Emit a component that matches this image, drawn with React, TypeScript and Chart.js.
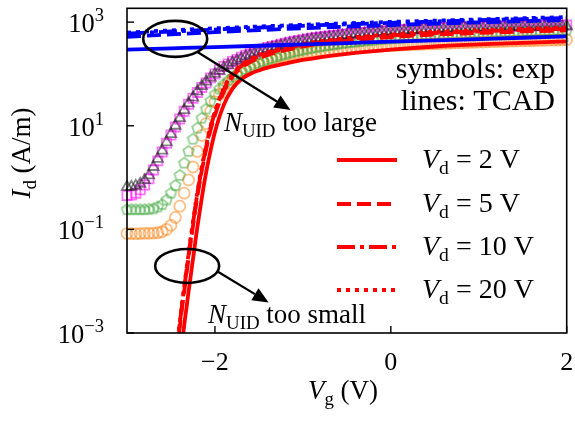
import React, { useEffect, useRef } from "react";
import { Chart, registerables } from "chart.js";

Chart.register(...registerables);

// ---------- data ----------
const VG_EXP = [
  -3.0, -2.95, -2.9, -2.85, -2.8, -2.75, -2.7, -2.65, -2.6, -2.55,
  -2.5, -2.45, -2.4, -2.35, -2.3, -2.25, -2.2, -2.15, -2.1, -2.05,
  -2.0, -1.95, -1.9, -1.85, -1.8, -1.75, -1.7, -1.65, -1.6, -1.55,
  -1.5, -1.45, -1.4, -1.35, -1.3, -1.25, -1.2, -1.15, -1.1, -1.05,
  -1.0, -0.95, -0.9, -0.85, -0.8, -0.75, -0.7, -0.65, -0.6, -0.55,
  -0.5, -0.45, -0.4, -0.35, -0.3, -0.25, -0.2, -0.15, -0.1, -0.05,
  0.0, 0.05, 0.1, 0.15, 0.2, 0.25, 0.3, 0.35, 0.4, 0.45,
  0.5, 0.55, 0.6, 0.65, 0.7, 0.75, 0.8, 0.85, 0.9, 0.95,
  1.0, 1.05, 1.1, 1.15, 1.2, 1.25, 1.3, 1.35, 1.4, 1.45,
  1.5, 1.55, 1.6, 1.65, 1.7, 1.75, 1.8, 1.85, 1.9, 1.95,
  2.0,
];

// experimental Id (A/m)
const EXP_VD2 = [
  0.083, 0.083, 0.082, 0.083, 0.084, 0.084, 0.085, 0.086, 0.09, 0.1,
  0.12, 0.17, 0.28, 0.5, 0.9, 1.6, 3.2, 6.5, 11, 19,
  29, 40, 53, 66, 79, 92, 104, 116, 128, 140,
  152, 164, 176, 187, 198, 209, 219, 229, 238, 246,
  253, 260, 266, 272, 278, 284, 290, 295, 300, 305,
  310, 315, 320, 325, 330, 334, 338, 342, 346, 350,
  354, 357, 360, 363, 366, 369, 372, 375, 378, 381,
  384, 387, 390, 393, 396, 399, 402, 404, 407, 409,
  412, 414, 417, 419, 422, 424, 427, 429, 431, 434,
  436, 438, 440, 442, 444, 446, 448, 450, 452, 454,
  456,
];
const EXP_VD5 = [
  0.24, 0.24, 0.24, 0.24, 0.24, 0.245, 0.25, 0.27, 0.3, 0.37,
  0.5, 0.7, 1.1, 1.9, 3.2, 5.5, 9, 14, 21, 30,
  40, 51, 62, 74, 86, 98, 110, 122, 135, 148,
  161, 174, 187, 200, 213, 226, 239, 252, 264, 276,
  288, 300, 312, 323, 334, 345, 356, 366, 376, 386,
  396, 405, 414, 423, 432, 441, 449, 457, 465, 473,
  481, 487, 493, 499, 505, 511, 517, 523, 529, 535,
  541, 547, 553, 558, 564, 570, 575, 581, 586, 592,
  597, 602, 608, 613, 618, 623, 628, 633, 638, 643,
  648, 653, 658, 663, 668, 673, 678, 683, 688, 693,
  698,
];
const EXP_VD10 = [
  0.45, 0.46, 0.5, 0.58, 0.72, 0.95, 1.4, 2.1, 3.1, 4.6,
  6.6, 9.5, 13.5, 19, 26, 34, 44, 55, 67, 84,
  100, 121, 139, 156, 174, 191, 210, 229, 246, 264,
  283, 303, 324, 340, 356, 373, 391, 409, 427, 438,
  459, 475, 491, 503, 515, 526, 539, 551, 564, 578,
  590, 604, 618, 626, 633, 648, 655, 663, 678, 686,
  694, 701, 710, 718, 727, 735, 743, 752, 760, 766,
  772, 778, 783, 788, 791, 794, 797, 800, 804, 807,
  811, 814, 818, 821, 825, 828, 832, 835, 838, 842,
  845, 848, 852, 855, 858, 861, 864, 867, 870, 873,
  876,
];
const EXP_VD20 = [
  0.66, 0.66, 0.69, 0.76, 0.89, 1.1, 1.6, 2.3, 3.3, 4.8,
  6.9, 10, 14, 20, 27, 35, 46, 58, 71, 85,
  100, 115, 132, 148, 166, 182, 200, 219, 234, 251,
  269, 288, 309, 324, 339, 355, 372, 389, 407, 417,
  437, 452, 468, 479, 490, 501, 513, 525, 537, 550,
  562, 575, 589, 596, 603, 617, 624, 631, 646, 653,
  661, 668, 676, 684, 692, 700, 708, 716, 724, 729,
  735, 741, 746, 750, 753, 756, 759, 762, 766, 769,
  772, 775, 779, 782, 786, 789, 792, 795, 798, 802,
  805, 808, 811, 814, 817, 820, 823, 826, 829, 831,
  834,
];

// TCAD, N_UID too small (red)
const VG_SIM_LOW = [
  -2.44, -2.42, -2.4, -2.38, -2.36, -2.34, -2.32, -2.3, -2.28, -2.26,
  -2.24, -2.22, -2.2, -2.15, -2.1, -2.05, -2.0, -1.9, -1.8, -1.7,
  -1.6, -1.5, -1.4, -1.2, -1.0, -0.5, 0.0, 0.5, 1.0, 1.5, 2.0,
];
const SIM_LOW_VD2 = [
  1e-4, 1.8e-4, 3.2e-4, 5.6e-4, 1.0e-3, 1.9e-3, 3.4e-3, 6.3e-3, 0.011, 0.02,
  0.035, 0.063, 0.11, 0.4, 1.26, 3.3, 7.6, 25, 52, 79,
  100, 117, 132, 158, 186, 245, 295, 339, 372, 398, 427,
];
const SIM_LOW_VD5 = [
  4e-4, 7e-4, 1.3e-3, 2.5e-3, 4.7e-3, 8.5e-3, 0.0155, 0.028, 0.05, 0.087,
  0.15, 0.26, 0.43, 1.35, 3.5, 8.3, 16, 45, 89, 132,
  170, 204, 234, 288, 339, 437, 513, 575, 617, 661, 692,
];
const SIM_LOW_VD10 = [
  4.5e-4, 8e-4, 1.5e-3, 2.9e-3, 5.4e-3, 9.8e-3, 0.018, 0.032, 0.057, 0.1,
  0.17, 0.3, 0.49, 1.5, 3.9, 9.2, 18, 50, 97, 143,
  184, 220, 252, 310, 364, 469, 550, 617, 661, 708, 741,
];
const SIM_LOW_VD20 = [
  5e-4, 8.5e-4, 1.6e-3, 3.1e-3, 5.8e-3, 0.0105, 0.019, 0.034, 0.061, 0.107,
  0.18, 0.32, 0.52, 1.6, 4.1, 9.8, 19, 53, 102, 150,
  193, 231, 265, 326, 383, 494, 580, 650, 697, 746, 780,
];

// TCAD, N_UID too large (blue)
const VG_SIM_HIGH = [-3, -2.5, -2, -1.5, -1, -0.5, 0, 0.5, 1, 1.5, 2];
const SIM_HIGH_VD2 = [295, 312, 330, 350, 372, 395, 420, 445, 470, 500, 530];
const SIM_HIGH_VD5 = [520, 580, 640, 700, 760, 820, 880, 935, 990, 1045, 1100];
const SIM_HIGH_VD10 = [600, 660, 720, 785, 850, 910, 970, 1030, 1090, 1145, 1200];
const SIM_HIGH_VD20 = [630, 695, 760, 825, 890, 950, 1010, 1070, 1130, 1190, 1250];

const LEGEND_VD = ["2", "5", "10", "20"];
const X_TICKS = [-2, 0, 2];
const Y_TICKS = [1e3, 1e1, 1e-1, 1e-3];
const Y_TICK_EXP = ["3", "1", "\u22121", "\u22123"];

// ---------- styles ----------
const FONT = '"Liberation Serif", "DejaVu Serif", serif';
const DASHES: number[][] = [[], [14, 6], [18, 5, 4, 5], [4, 5]];
const RED = "#ff0000";
const BLUE = "#0000ff";

type Seg = { t: string; it?: boolean; sub?: boolean; sup?: boolean };

function fontFor(s: Seg, size: number) {
  const sz = s.sub || s.sup ? size * 0.7 : size;
  return `${s.it ? "italic " : ""}${sz}px ${FONT}`;
}

function drawRich(
  ctx: CanvasRenderingContext2D,
  segs: Seg[],
  x: number,
  y: number,
  size: number,
  align: "left" | "right" | "center"
) {
  ctx.textBaseline = "alphabetic";
  ctx.textAlign = "left";
  let w = 0;
  for (const s of segs) {
    ctx.font = fontFor(s, size);
    w += ctx.measureText(s.t).width;
  }
  let cx = align === "left" ? x : align === "right" ? x - w : x - w / 2;
  for (const s of segs) {
    ctx.font = fontFor(s, size);
    const dy = s.sub ? size * 0.22 : s.sup ? -size * 0.42 : 0;
    ctx.fillText(s.t, cx, y + dy);
    cx += ctx.measureText(s.t).width;
  }
}

function makePentagon(r: number, color: string, lw: number) {
  const size = Math.ceil(2 * r + lw * 2 + 2);
  const c = document.createElement("canvas");
  c.width = size;
  c.height = size;
  const g = c.getContext("2d")!;
  g.strokeStyle = color;
  g.lineWidth = lw;
  g.beginPath();
  for (let i = 0; i < 5; i++) {
    const a = -Math.PI / 2 + (i * 2 * Math.PI) / 5;
    const px = size / 2 + r * Math.cos(a);
    const py = size / 2 + r * Math.sin(a);
    if (i === 0) g.moveTo(px, py);
    else g.lineTo(px, py);
  }
  g.closePath();
  g.stroke();
  return c;
}

const pts = (xs: number[], ys: number[]) => xs.map((x, i) => ({ x, y: ys[i] }));

const overlayPlugin = {
  id: "overlay",
  afterDraw(chart: any) {
    const { ctx, chartArea: ca, scales } = chart;
    const xs = scales.x;
    const ys = scales.y;
    ctx.save();
    ctx.fillStyle = "#000";
    ctx.strokeStyle = "#000";

    // frame
    ctx.lineWidth = 1.6;
    ctx.strokeRect(ca.left, ca.top, ca.right - ca.left, ca.bottom - ca.top);

    // x ticks
    ctx.lineWidth = 1.4;
    for (const v of X_TICKS) {
      const px = xs.getPixelForValue(v);
      ctx.beginPath();
      ctx.moveTo(px, ca.bottom);
      ctx.lineTo(px, ca.bottom - 7);
      ctx.stroke();
      const lab = v < 0 ? "\u2212" + Math.abs(v) : String(v);
      drawRich(ctx, [{ t: lab }], px, ca.bottom + 37, 26, "center");
    }
    // y ticks
    Y_TICKS.forEach((v, i) => {
      const py = ys.getPixelForValue(v);
      ctx.beginPath();
      ctx.moveTo(ca.left, py);
      ctx.lineTo(ca.left + 7, py);
      ctx.stroke();
      drawRich(ctx, [{ t: "10" }, { t: Y_TICK_EXP[i], sup: true }], ca.left - 23, py + 10, 26.5, "right");
    });

    // axis titles
    drawRich(
      ctx,
      [{ t: "V", it: true }, { t: "g", sub: true }, { t: " (V)" }],
      343,
      399,
      27,
      "center"
    );
    ctx.save();
    ctx.translate(30, 153);
    ctx.rotate(-Math.PI / 2);
    drawRich(ctx, [{ t: "I", it: true }, { t: "d", sub: true }, { t: " (A/m)" }], 0, 0, 27, "center");
    ctx.restore();

    // text box
    drawRich(ctx, [{ t: "symbols: exp" }], 555, 78, 30, "right");
    drawRich(ctx, [{ t: "lines: TCAD" }], 555, 110, 30, "right");

    // legend (red TCAD lines)
    const rows = [160, 204, 247, 290];
    rows.forEach((ry, i) => {
      ctx.save();
      ctx.strokeStyle = RED;
      ctx.lineWidth = 3.8;
      ctx.setLineDash(DASHES[i]);
      ctx.beginPath();
      ctx.moveTo(337, ry);
      ctx.lineTo(397, ry);
      ctx.stroke();
      ctx.restore();
      drawRich(
        ctx,
        [{ t: "V", it: true }, { t: "d", sub: true }, { t: " = " + LEGEND_VD[i] + " V" }],
        422,
        ry + 8,
        28,
        "left"
      );
    });

    // annotations (data coordinates)
    const P = (x: number, y: number) => [xs.getPixelForValue(x), ys.getPixelForValue(y)];
    const ellipse = (x: number, y: number, rx: number, ry: number) => {
      const [cx, cy] = P(x, y);
      ctx.beginPath();
      ctx.ellipse(cx, cy, rx, ry, 0, 0, Math.PI * 2);
      ctx.lineWidth = 2.6;
      ctx.stroke();
    };
    const arrow = (x0: number, y0: number, x1: number, y1: number) => {
      const [ax, ay] = P(x0, y0);
      const [bx, by] = P(x1, y1);
      const ang = Math.atan2(by - ay, bx - ax);
      const hl = 16;
      const hw = 7;
      const sx = bx - hl * Math.cos(ang);
      const sy = by - hl * Math.sin(ang);
      ctx.lineWidth = 2.2;
      ctx.beginPath();
      ctx.moveTo(ax, ay);
      ctx.lineTo(sx, sy);
      ctx.stroke();
      ctx.beginPath();
      ctx.moveTo(bx, by);
      ctx.lineTo(sx - hw * Math.sin(ang), sy + hw * Math.cos(ang));
      ctx.lineTo(sx + hw * Math.sin(ang), sy - hw * Math.cos(ang));
      ctx.closePath();
      ctx.fill();
    };
    ellipse(-2.452, 475, 32, 18);
    arrow(-2.203, 268, -1.141, 20.2);
    const [t1x, t1y] = P(-1.898, 8.0);
    drawRich(ctx, [{ t: "N", it: true }, { t: "UID", sub: true }, { t: " too large" }], t1x, t1y, 27, "left");

    ellipse(-2.316, 0.0197, 32, 17);
    arrow(-1.966, 0.0152, -1.39, 0.00389);
    const [t2x, t2y] = P(-2.079, 0.00155);
    drawRich(ctx, [{ t: "N", it: true }, { t: "UID", sub: true }, { t: " too small" }], t2x, t2y, 27, "left");

    ctx.restore();
  },
};

export default function App() {
  const ref = useRef<HTMLCanvasElement>(null);
  useEffect(() => {
    document.body.style.margin = "0";
    document.body.style.overflow = "hidden";
    const canvas = ref.current!;
    const pent = makePentagon(5.5, "rgba(44,160,44,0.5)", 1.8);

    const expBase = {
      type: "scatter",
      showLine: false,
      clip: false,
      pointBackgroundColor: "rgba(0,0,0,0)",
      pointBorderWidth: 1.8,
    };
    const lineBase = {
      type: "line",
      pointRadius: 0,
      borderWidth: 3.8,
      fill: false,
      cubicInterpolationMode: "monotone",
    };

    const chart = new Chart(canvas, {
      type: "scatter",
      data: {
        datasets: [
          // blue (drawn on top)
          { ...lineBase, data: pts(VG_SIM_HIGH, SIM_HIGH_VD2), borderColor: BLUE, borderDash: DASHES[0] },
          { ...lineBase, data: pts(VG_SIM_HIGH, SIM_HIGH_VD5), borderColor: BLUE, borderDash: DASHES[1] },
          { ...lineBase, data: pts(VG_SIM_HIGH, SIM_HIGH_VD10), borderColor: BLUE, borderDash: DASHES[2] },
          { ...lineBase, data: pts(VG_SIM_HIGH, SIM_HIGH_VD20), borderColor: BLUE, borderDash: DASHES[3] },
          // red
          { ...lineBase, data: pts(VG_SIM_LOW, SIM_LOW_VD2), borderColor: RED, borderDash: DASHES[0] },
          { ...lineBase, data: pts(VG_SIM_LOW, SIM_LOW_VD5), borderColor: RED, borderDash: DASHES[1] },
          { ...lineBase, data: pts(VG_SIM_LOW, SIM_LOW_VD10), borderColor: RED, borderDash: DASHES[2] },
          { ...lineBase, data: pts(VG_SIM_LOW, SIM_LOW_VD20), borderColor: RED, borderDash: DASHES[3] },
          // experiment symbols
          {
            ...expBase,
            data: pts(VG_EXP, EXP_VD20),
            pointStyle: "triangle",
            pointRadius: 6,
            pointBorderColor: "rgba(30,30,30,0.55)",
          },
          {
            ...expBase,
            data: pts(VG_EXP, EXP_VD10),
            pointStyle: "rect",
            pointRadius: 6.5,
            pointBorderColor: "rgba(255,0,255,0.55)",
          },
          {
            ...expBase,
            data: pts(VG_EXP, EXP_VD5),
            pointStyle: pent,
            pointRadius: 6,
            pointBorderColor: "rgba(44,160,44,0.5)",
          },
          {
            ...expBase,
            data: pts(VG_EXP, EXP_VD2),
            pointStyle: "circle",
            pointRadius: 5.5,
            pointBorderColor: "rgba(255,127,14,0.5)",
          },
        ] as any,
      },
      options: {
        responsive: false,
        animation: false,
        devicePixelRatio: 1,
        layout: { padding: { left: 0, right: 6, top: 4, bottom: 0 } },
        plugins: { legend: { display: false }, tooltip: { enabled: false } },
        events: [],
        scales: {
          x: {
            type: "linear",
            min: -3,
            max: 2,
            grid: { display: false },
            border: { display: false },
            ticks: { display: false },
            afterFit(s: any) {
              s.height = 89;
            },
          },
          y: {
            type: "logarithmic",
            min: 1e-3,
            max: 1850,
            grid: { display: false },
            border: { display: false },
            ticks: { display: false },
            afterFit(s: any) {
              s.width = 127;
            },
          },
        },
      } as any,
      plugins: [overlayPlugin],
    });
    return () => chart.destroy();
  }, []);
  return <canvas ref={ref} width={575} height={422} style={{ display: "block", width: 575, height: 422 }} />;
}
